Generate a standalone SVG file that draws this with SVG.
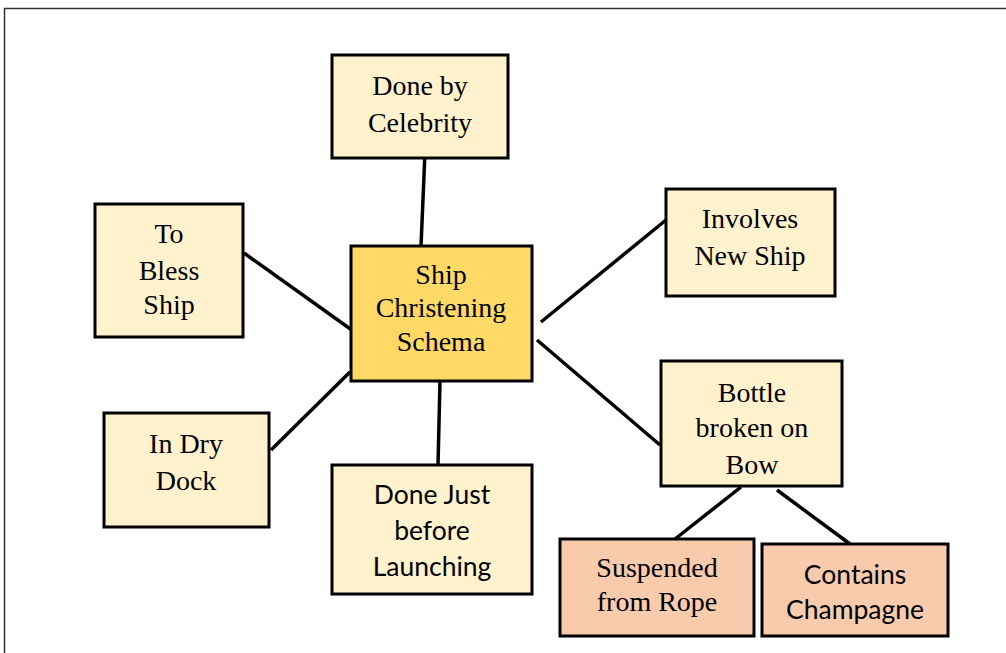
<svg xmlns="http://www.w3.org/2000/svg" width="1006" height="653" viewBox="0 0 1006 653">
<style>
.box{stroke:#000;stroke-width:3}
.lt{fill:#fff2cc}
.ctr{fill:#ffd966}
.or{fill:#f8cbad}
.t{font-family:'Liberation Serif','Times New Roman','DejaVu Serif',serif;font-size:28px;fill:#000;text-anchor:middle}
.s{font-family:Lato,'Liberation Sans',sans-serif;font-size:26.5px;fill:#000;text-anchor:middle}
.c line{stroke:#000;stroke-width:3.5}
</style>
<rect width="1006" height="653" fill="#fff"/>
<path d="M4.5,653 V8.5 H1006" fill="none" stroke="#333" stroke-width="1.5"/>
<g class="c" id="connectors">
<line x1="425" y1="152" x2="421" y2="246"/>
<line x1="244" y1="253" x2="356" y2="333"/>
<line x1="271" y1="450" x2="350" y2="372"/>
<line x1="440" y1="381" x2="438" y2="465"/>
<line x1="541" y1="322" x2="666" y2="220"/>
<line x1="537" y1="340" x2="660" y2="445"/>
<line x1="741" y1="487" x2="675" y2="539"/>
<line x1="777" y1="490" x2="850" y2="544"/>
</g>
<g id="celebrity">
<rect class="box lt" x="332" y="55" width="176" height="103"/>
<text class="t" x="420" y="95">Done by</text>
<text class="t" x="420" y="132">Celebrity</text>
</g>
<g id="center">
<rect class="box ctr" x="351" y="246" width="181" height="135"/>
<text class="t" x="441" y="284">Ship</text>
<text class="t" x="441" y="317">Christening</text>
<text class="t" x="441" y="351">Schema</text>
</g>
<g id="bless">
<rect class="box lt" x="95" y="204" width="148" height="133"/>
<text class="t" x="169" y="243">To</text>
<text class="t" x="169" y="280">Bless</text>
<text class="t" x="169" y="314">Ship</text>
</g>
<g id="drydock">
<rect class="box lt" x="104" y="413" width="165" height="114"/>
<text class="t" x="186" y="453">In Dry</text>
<text class="t" x="186" y="490">Dock</text>
</g>
<g id="launching">
<rect class="box lt" x="332" y="465" width="200" height="129"/>
<text class="s" x="432" y="504">Done Just</text>
<text class="s" x="432" y="540">before</text>
<text class="s" x="432" y="576">Launching</text>
</g>
<g id="involves">
<rect class="box lt" x="666" y="189" width="169" height="107"/>
<text class="t" x="750" y="228">Involves</text>
<text class="t" x="750" y="265">New Ship</text>
</g>
<g id="bottle">
<rect class="box lt" x="661" y="361" width="181" height="125"/>
<text class="t" x="752" y="402">Bottle</text>
<text class="t" x="752" y="437">broken on</text>
<text class="t" x="752" y="474">Bow</text>
</g>
<g id="suspended">
<rect class="box or" x="560" y="539" width="194" height="97"/>
<text class="t" x="657" y="577">Suspended</text>
<text class="t" x="657" y="611">from Rope</text>
</g>
<g id="champagne">
<rect class="box or" x="762" y="544" width="186" height="92"/>
<text class="s" x="855" y="584">Contains</text>
<text class="s" x="855" y="619">Champagne</text>
</g>
</svg>
